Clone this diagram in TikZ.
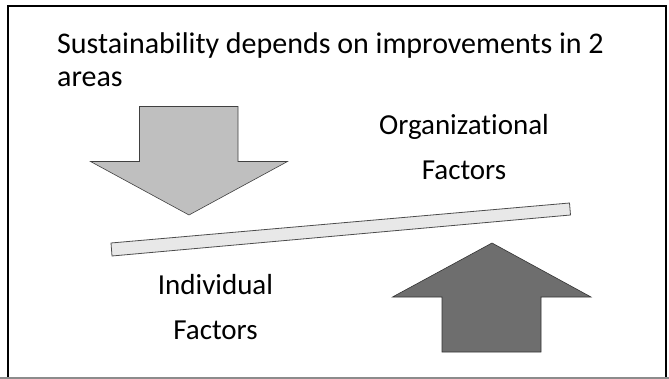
\documentclass[tikz,border=0pt]{standalone}
\usepackage{fontspec}
\setmainfont{Carlito}[Ligatures=NoCommon]

\begin{document}
\begin{tikzpicture}[x=1pt,y=-1pt]
				\useasboundingbox (0,0) rectangle (669,379);
				\draw[line width=2pt] (8,378) -- (8,6) -- (666,6) -- (666,378);
				\draw[black!45, line width=1.5pt] (0,378) -- (669,378);
				
				\node[anchor=base west, inner sep=0, align=left, font=\fontsize{30}{33.5}\selectfont] (title) at (57,87) {Sustainability depends on improvements in 2\\areas};
				
				\draw[fill=black!25, draw=black!75, line width=0.6pt] (139.5,106.5) -- (238,106.5) -- (238,161.5) -- (287.5,161.5) -- (189,215) -- (90.5,161.5) -- (139.5,161.5) -- cycle;
				
				\draw[fill=black!9, draw=black!70, line width=0.8pt] (111,243) -- (569.5,203) -- (570.5,215) -- (112,256) -- cycle;
				
				\draw[fill=black!57, draw=black!80, line width=0.6pt] (492,243) -- (591,297) -- (541,297) -- (541,352) -- (442,352) -- (442,297) -- (392.5,297) -- cycle;
				
				\node[anchor=base, inner sep=0, align=center, font=\fontsize{29}{45}\selectfont] (orgfactors) at (464,180) {Organizational\\Factors};
				\node[anchor=base, inner sep=0, align=center, font=\fontsize{29}{45}\selectfont] (indfactors) at (215.5,339) {Individual\\Factors};
			\end{tikzpicture}
\end{document}
